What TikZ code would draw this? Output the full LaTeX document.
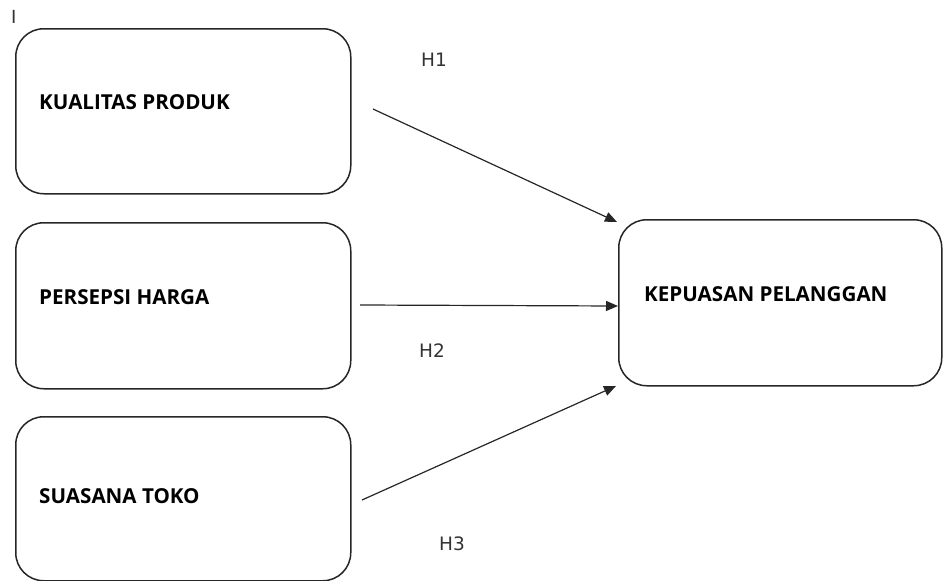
\documentclass[tikz,border=0pt]{standalone}
\usepackage{fontspec}
\setmainfont{Open Sans}
\newfontfamily\hfont{DejaVu Sans}
\usetikzlibrary{arrows.meta}
\begin{document}
\begin{tikzpicture}[x=1pt,y=-1pt,
  box/.style={draw=black!85, line width=1.5pt, rounded corners=28pt, anchor=north west},
  lbl/.style={anchor=base west, inner sep=0pt, font=\fontsize{20.6}{23}\selectfont\bfseries},
  hyp/.style={anchor=base west, inner sep=0pt, font=\hfont\fontsize{18.5}{21}\selectfont, text=black!80},
  link/.style={draw=black!85, line width=1.2pt, -{Triangle[length=12pt,width=10pt]}}]
\useasboundingbox (0,0) rectangle (943,581);
\node[anchor=base west, inner sep=0pt, font=\hfont\fontsize{18}{20}\selectfont, text=black!80] (mark) at (11,23) {I};
\node[box, minimum width=335pt, minimum height=165pt] (kp) at (15,28) {};
\node[box, minimum width=335pt, minimum height=166pt] (ph) at (15,222) {};
\node[box, minimum width=335pt, minimum height=164pt] (st) at (15,416) {};
\node[box, minimum width=323pt, minimum height=166pt] (kep) at (618,219) {};
\node[lbl] (tkp) at (39,109) {KUALITAS PRODUK};
\node[lbl] (tph) at (39,304) {PERSEPSI HARGA};
\node[lbl] (tst) at (39,503) {SUASANA TOKO};
\node[lbl] (tkep) at (644,301) {KEPUASAN PELANGGAN};
\node[hyp] (h1) at (421,66) {H1};
\node[hyp] (h2) at (419,357) {H2};
\node[hyp] (h3) at (439,550) {H3};
\coordinate (s1) at (373,109);
\coordinate (e1) at (617,222);
\coordinate (s2) at (360,305);
\coordinate (e2) at (618,306);
\coordinate (s3) at (362,500);
\coordinate (e3) at (616,386);
\draw[link] (s1) -- (e1);
\draw[link] (s2) -- (e2);
\draw[link] (s3) -- (e3);
\end{tikzpicture}
\end{document}
